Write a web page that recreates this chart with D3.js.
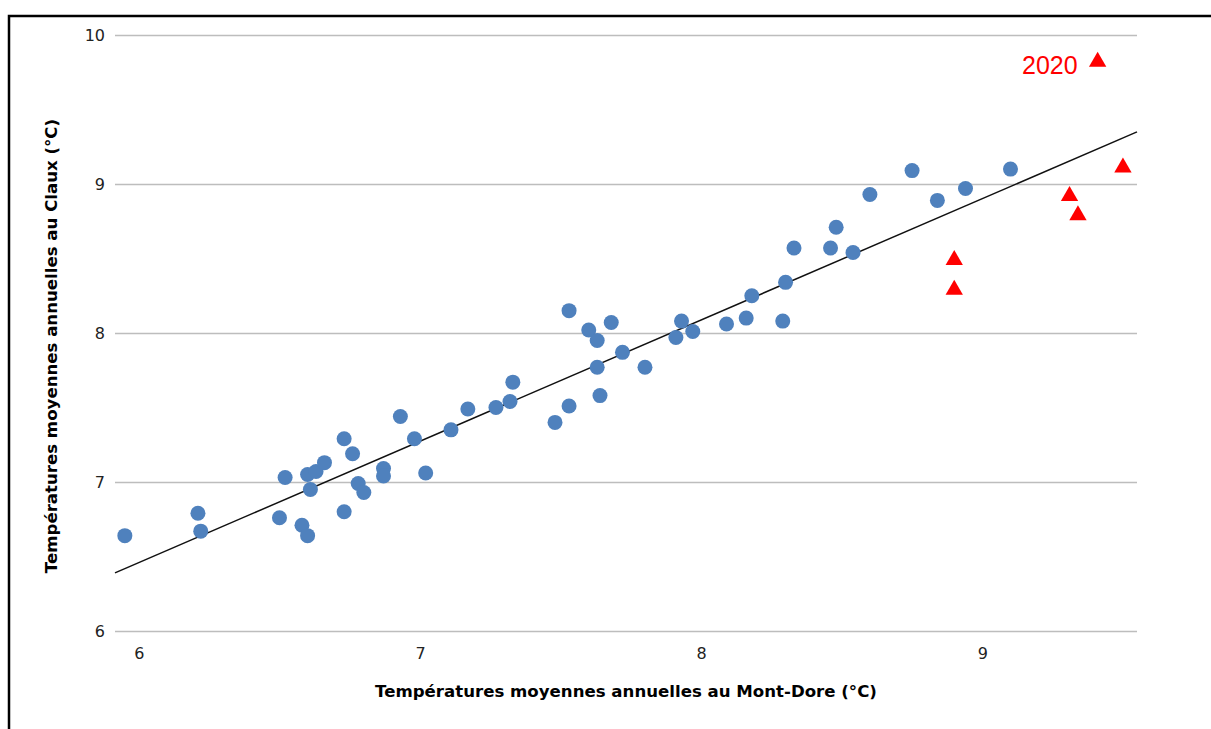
<!DOCTYPE html>
<html>
<head>
<meta charset="utf-8">
<script src="https://cdn.jsdelivr.net/npm/d3@7"></script>
<style>
  body { margin: 0; background: #fff; }
  .tick-label { font-family: "DejaVu Sans", Verdana, sans-serif; font-size: 16px; fill: #222; }
  .axis-title { font-family: "DejaVu Sans", Verdana, sans-serif; font-size: 16.6px; font-weight: bold; fill: #000; }
</style>
</head>
<body>
<div id="chart"></div>
<script>
// Mont-Dore (x) vs Claux (y), mean annual temperatures
const MONT_DORE = [5.95, 6.21, 6.22, 6.5, 6.52, 6.58, 6.6, 6.6, 6.61, 6.63, 6.66, 6.73, 6.73, 6.76, 6.78, 6.8,
  6.87, 6.87, 6.93, 6.98, 7.02, 7.11, 7.17, 7.27, 7.32, 7.33, 7.48, 7.53, 7.53, 7.6, 7.63, 7.63, 7.64, 7.68,
  7.72, 7.8, 7.91, 7.93, 7.97, 8.09, 8.16, 8.18, 8.29, 8.3, 8.33, 8.46, 8.48, 8.54, 8.6, 8.75, 8.84, 8.94, 9.1];
const CLAUX = [6.64, 6.79, 6.67, 6.76, 7.03, 6.71, 6.64, 7.05, 6.95, 7.07, 7.13, 6.8, 7.29, 7.19, 6.99, 6.93,
  7.09, 7.04, 7.44, 7.29, 7.06, 7.35, 7.49, 7.5, 7.54, 7.67, 7.4, 7.51, 8.15, 8.02, 7.95, 7.77, 7.58, 8.07,
  7.87, 7.77, 7.97, 8.08, 8.01, 8.06, 8.1, 8.25, 8.08, 8.34, 8.57, 8.57, 8.71, 8.54, 8.93, 9.09, 8.89, 8.97, 9.1];

// recent years, drawn as red triangles
const RECENT_MONT_DORE = [8.9, 8.9, 9.31, 9.34, 9.41, 9.5];
const RECENT_CLAUX = [8.49, 8.29, 8.92, 8.79, 9.82, 9.11];
const RECENT_LABELS = ["", "", "", "", "2020", ""];

// trend line end points
const TREND_X = [5.915, 9.55];
const TREND_Y = [6.39, 9.35];

const X_TICKS = [6, 7, 8, 9];
const Y_TICKS = [6, 7, 8, 9, 10];

const WIDTH = 1211;
const HEIGHT = 729;
const PLOT = { LEFT: 115, RIGHT: 1137, TOP: 35, BOTTOM: 631 };

const SVG = d3.select("#chart").append("svg")
  .attr("width", WIDTH)
  .attr("height", HEIGHT);

// frame
SVG.append("rect")
  .attr("x", 9)
  .attr("y", 16)
  .attr("width", WIDTH + 20)
  .attr("height", HEIGHT + 20)
  .attr("fill", "none")
  .attr("stroke", "#000")
  .attr("stroke-width", 2.5);

const X_SCALE = d3.scaleLinear().domain([5.915, 9.55]).range([PLOT.LEFT, PLOT.RIGHT]);
const Y_SCALE = d3.scaleLinear().domain([6, 10]).range([PLOT.BOTTOM, PLOT.TOP]);

// gridlines + y labels
const Y_AXIS = d3.axisLeft(Y_SCALE)
  .tickValues(Y_TICKS)
  .tickSize(-(PLOT.RIGHT - PLOT.LEFT))
  .tickPadding(10)
  .tickFormat(d3.format("d"));

const Y_G = SVG.append("g")
  .attr("transform", "translate(" + PLOT.LEFT + ",0)")
  .call(Y_AXIS);
Y_G.select(".domain").remove();
Y_G.selectAll(".tick line").attr("stroke", "#bdbdbd").attr("stroke-width", 1.3);
Y_G.selectAll(".tick text").attr("class", "tick-label").attr("x", -10);

const X_AXIS = d3.axisBottom(X_SCALE)
  .tickValues(X_TICKS)
  .tickSize(0)
  .tickPadding(17)
  .tickFormat(d3.format("d"));

const X_G = SVG.append("g")
  .attr("transform", "translate(0," + PLOT.BOTTOM + ")")
  .call(X_AXIS);
X_G.select(".domain").remove();
X_G.selectAll(".tick text").attr("class", "tick-label");

// trend line
const TREND = TREND_X.map((x, i) => [x, TREND_Y[i]]);
SVG.append("path")
  .datum(TREND)
  .attr("d", d3.line().x((d) => X_SCALE(d[0])).y((d) => Y_SCALE(d[1])))
  .attr("fill", "none")
  .attr("stroke", "#111")
  .attr("stroke-width", 1.5);

// blue dots
SVG.selectAll(".dot")
  .data(MONT_DORE.map((x, i) => ({ x: x, y: CLAUX[i] })))
  .enter()
  .append("circle")
  .attr("class", "dot")
  .attr("cx", (d) => X_SCALE(d.x))
  .attr("cy", (d) => Y_SCALE(d.y))
  .attr("r", 7.5)
  .attr("fill", "#4f81bd");

// red triangles
const RECENT = RECENT_MONT_DORE.map((x, i) => ({ x: x, y: RECENT_CLAUX[i], label: RECENT_LABELS[i] }));
SVG.selectAll(".tri")
  .data(RECENT)
  .enter()
  .append("path")
  .attr("class", "tri")
  .attr("d", d3.symbol().type(d3.symbolTriangle).size(130))
  .attr("transform", (d) => "translate(" + X_SCALE(d.x) + "," + Y_SCALE(d.y) + ")")
  .attr("fill", "#ff0000");

SVG.selectAll(".tri-label")
  .data(RECENT.filter((d) => d.label !== ""))
  .enter()
  .append("text")
  .attr("class", "tri-label")
  .attr("x", (d) => X_SCALE(d.x) - 20)
  .attr("y", (d) => Y_SCALE(d.y) + 12)
  .attr("text-anchor", "end")
  .style("font-family", "'Liberation Sans', Arial, sans-serif")
  .style("font-size", "25px")
  .attr("fill", "#ff0000")
  .text((d) => d.label);

// axis titles
SVG.append("text")
  .attr("class", "axis-title")
  .attr("x", (PLOT.LEFT + PLOT.RIGHT) / 2)
  .attr("y", 697)
  .attr("text-anchor", "middle")
  .text("Températures moyennes annuelles au Mont-Dore (°C)");

SVG.append("text")
  .attr("class", "axis-title")
  .attr("transform", "rotate(-90)")
  .attr("x", -346)
  .attr("y", 57)
  .attr("text-anchor", "middle")
  .text("Températures moyennes annuelles au Claux (°C)");
</script>
</body>
</html>
